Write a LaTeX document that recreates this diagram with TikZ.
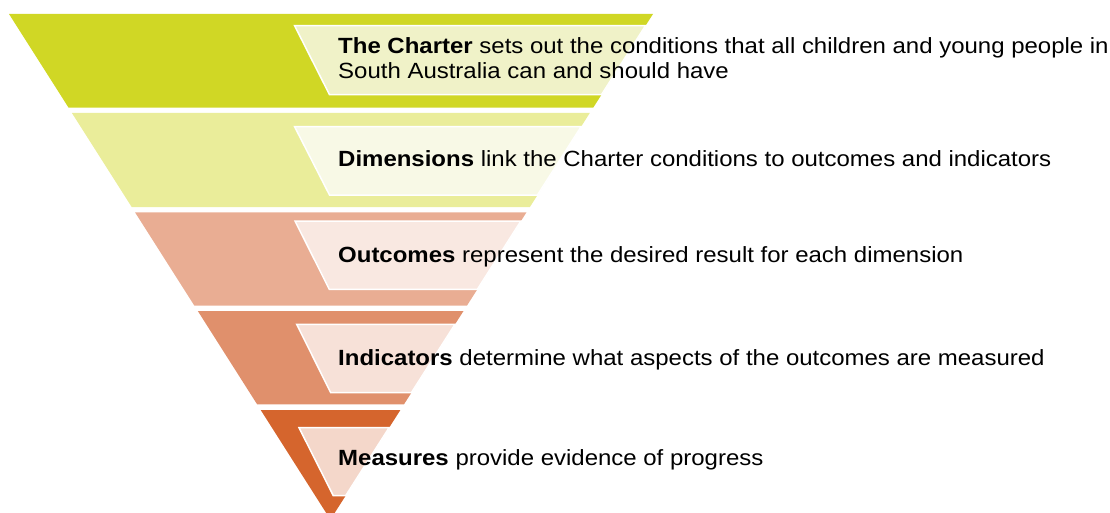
\documentclass[tikz,border=0pt]{standalone}
\usepackage{fontspec}
\setmainfont{Liberation Sans}[FakeStretch=1.09]
\definecolor{lay1}{RGB}{208,215,37}
\definecolor{lay2}{RGB}{234,237,154}
\definecolor{lay3}{RGB}{233,173,147}
\definecolor{lay4}{RGB}{224,144,108}
\definecolor{lay5}{RGB}{213,101,45}
\definecolor{box1}{RGB}{240,242,200}
\definecolor{box2}{RGB}{248,249,230}
\definecolor{box3}{RGB}{249,232,225}
\definecolor{box4}{RGB}{247,225,216}
\definecolor{box5}{RGB}{244,215,202}
\tikzset{
  layer/.style={draw=none},
  tbox/.style={draw=white, line width=1.5pt, line join=miter},
  lbl/.style={anchor=base west, inner sep=0pt, font=\fontsize{22}{25}\selectfont, text=black}
}
\begin{document}
\begin{tikzpicture}[x=1pt,y=-1pt]
\useasboundingbox (0,0) rectangle (1110,513);
\begin{scope}
\clip (0,0) rectangle (1110,513);
% layers
\fill[lay1] (9,14) -- (653,14) -- (593.2,107.7) -- (68.6,107.7) -- cycle;
\fill[lay2] (71.9,113) -- (589.8,113) -- (529.9,207) -- (131.7,207) -- cycle;
\fill[lay3] (135.0,212.3) -- (526.5,212.3) -- (466.9,305.7) -- (194.4,305.7) -- cycle;
\fill[lay4] (197.8,311) -- (463.5,311) -- (404.0,404.3) -- (257.1,404.3) -- cycle;
\fill[lay5] (260.7,410) -- (400.4,410) -- (330.4,519.6) -- cycle;
% text boxes
\filldraw[tbox, fill=box1] (294.6,25.7) -- (645.5,25.7) -- (601.5,94.7) -- (329.5,94.7) -- cycle;
\filldraw[tbox, fill=box2] (294.6,126.7) -- (581.1,126.7) -- (537.5,195) -- (329.5,195) -- cycle;
\filldraw[tbox, fill=box3] (295,221) -- (520.9,221) -- (477.4,289.3) -- (329.3,289.3) -- cycle;
\filldraw[tbox, fill=box4] (296.7,324.3) -- (455,324.3) -- (411.4,392.7) -- (330.7,392.7) -- cycle;
\filldraw[tbox, fill=box5] (299,427.7) -- (389.1,427.7) -- (345.7,495.7) -- (333.3,495.7) -- cycle;
\end{scope}
% labels
\node[lbl] (t1a) at (338,53.5) {\textbf{The Charter} sets out the conditions that all children and young people in};
\node[lbl] (t1b) at (338,78.5) {South Australia can and should have};
\node[lbl] (t2) at (338,167) {\textbf{Dimensions} link the Charter conditions to outcomes and indicators};
\node[lbl] (t3) at (338,262.5) {\textbf{Outcomes} represent the desired result for each dimension};
\node[lbl] (t4) at (338,365) {\textbf{Indicators} determine what aspects of the outcomes are measured};
\node[lbl] (t5) at (338,465.5) {\textbf{Measures} provide evidence of progress};
\end{tikzpicture}
\end{document}
